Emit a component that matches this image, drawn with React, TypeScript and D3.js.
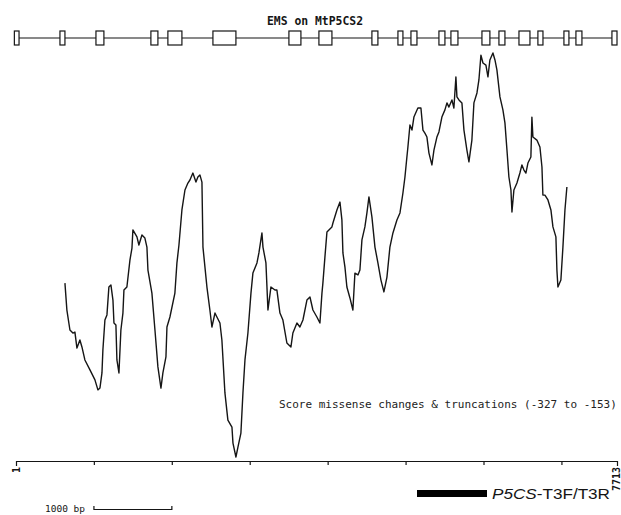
import React, { useRef, useEffect } from 'react';
import * as d3 from 'd3';

const W = 621;
const H = 515;

// nucleotide position (bp) of each sample of the score trace
const POS = [
    629, 654, 693, 731, 757, 783, 821, 847, 885, 950,
    1014, 1052, 1078, 1104, 1116, 1142, 1168, 1193, 1219, 1245,
    1258, 1283, 1296, 1322, 1347, 1373, 1386, 1424, 1463, 1489,
    1501, 1553, 1578, 1617, 1655, 1681, 1694, 1745, 1784, 1822,
    1861, 1886, 1925, 1938, 1976, 2040, 2066, 2092, 2130, 2169,
    2207, 2233, 2271, 2310, 2335, 2361, 2387, 2400, 2451, 2489,
    2515, 2554, 2579, 2618, 2643, 2682, 2720, 2772, 2785, 2823,
    2849, 2887, 2913, 2939, 2977, 3016, 3041, 3093, 3118, 3157,
    3170, 3208, 3234, 3272, 3324, 3349, 3388, 3426, 3477, 3529,
    3554, 3606, 3644, 3683, 3734, 3773, 3811, 3862, 3901, 3927,
    3939, 3965, 3991, 4055, 4068, 4119, 4158, 4183, 4196, 4222,
    4247, 4286, 4324, 4350, 4389, 4414, 4440, 4478, 4504, 4530,
    4568, 4607, 4645, 4684, 4722, 4761, 4799, 4838, 4889, 4928,
    4966, 4992, 5017, 5030, 5056, 5082, 5107, 5158, 5197,
    5223, 5248, 5274, 5300, 5338, 5364, 5402, 5428, 5466, 5505, 5531,
    5556, 5595, 5620, 5646, 5659, 5685, 5723, 5749, 5787, 5813,
    5851, 5877, 5916, 5941, 5967, 5993, 6031, 6057, 6082, 6121,
    6147, 6172, 6211, 6249, 6275, 6301, 6326, 6352, 6365, 6390,
    6429, 6467, 6493, 6519, 6544, 6570, 6608, 6621, 6634, 6685,
    6724, 6750, 6762, 6788, 6827, 6865, 6891, 6929, 6942, 6955,
    6993, 7019, 7045, 7070,
];

// windowed score (missense changes & truncations)
const SCORE = [
    -252.1, -263.7, -272.3, -273.6, -273.2, -280.1, -276.6, -279.6, -285.2, -289.5,
    -293.8, -298.1, -297.3, -290.8, -280.9, -268.0, -265.8, -253.8, -252.9, -259.4,
    -269.3, -270.1, -285.2, -290.8, -272.3, -265.0, -255.1, -253.8, -242.2, -237.0,
    -229.2, -232.2, -235.7, -231.4, -232.7, -236.6, -246.5, -256.4, -272.3, -288.2,
    -297.3, -290.8, -283.9, -271.0, -266.7, -256.4, -243.4, -235.7, -220.6, -212.0,
    -209.0, -207.7, -204.7, -208.6, -206.4, -205.5, -208.6, -236.6, -253.8, -263.7,
    -271.0, -265.0, -266.7, -269.3, -276.6, -299.4, -311.1, -314.1, -321.0, -327.0,
    -322.7, -316.7, -299.4, -285.2, -273.6, -256.4, -247.8, -243.4, -239.1, -230.5,
    -236.6, -243.4, -263.7, -253.8, -255.1, -255.1, -265.0, -268.0, -277.9, -279.6,
    -273.6, -269.3, -271.0, -268.0, -259.4, -258.1, -263.7, -266.7, -269.3, -256.4,
    -252.1, -240.9, -230.1, -227.9, -226.2, -220.6, -217.2, -224.9, -239.1, -245.2,
    -253.8, -258.5, -263.7, -247.8, -248.6, -246.5, -233.5, -227.9, -221.9, -215.0,
    -223.6, -236.6, -243.4, -250.8, -255.9, -249.5, -236.6, -230.5, -224.9, -221.9,
    -213.3, -206.4, -197.8, -193.5, -184.0, -186.2, -180.6, -176.7, -176.7,
    -186.2, -187.5, -189.2, -196.1, -201.2, -194.8, -189.2, -187.0, -180.6, -177.5, -174.5,
    -176.3, -173.2, -176.7, -163.3, -171.9, -173.2, -174.5, -186.2, -194.8, -199.9,
    -190.5, -174.5, -170.2, -164.6, -153.9, -157.3, -158.2, -163.3, -156.0, -153.0,
    -156.0, -160.3, -171.9, -177.5, -183.1, -194.8, -206.4, -212.0, -221.5, -212.0,
    -209.0, -204.7, -201.2, -203.4, -204.7, -200.4, -197.8, -180.6, -189.2, -190.5,
    -193.5, -202.1, -214.2, -214.2, -216.3, -220.6, -227.9, -232.2, -246.5, -253.8,
    -250.8, -236.6, -220.6, -210.7,
];

// exons of MtP5CS2 [start, end] in bp
const EXONS = [
    [-20, 40], [565, 629], [1027, 1129], [1732, 1822], [1950, 2130], [2528, 2823],
    [3503, 3657], [3888, 4055], [4568, 4645], [4902, 4966], [5069, 5146],
    [5428, 5505], [5582, 5672], [5980, 6082], [6198, 6275], [6455, 6596],
    [6698, 6763], [7032, 7096], [7186, 7263], [7648, 7713],
];

const SEQ_START = 1;
const SEQ_END = 7713;
const SCORE_MIN = -327;
const SCORE_MAX = -153;
const AXIS_TICKS = [1000, 2000, 3000, 4000, 5000, 6000, 7000];
const SCALE_BAR = [1001, 2001];

const TITLE = 'EMS on MtP5CS2';
const SCORE_LABEL = 'Score missense changes & truncations (-327 to -153)';
const PRIMER_LABEL = 'P5CS';
const PRIMER_SUFFIX = '-T3F/T3R';

const MONO = '"DejaVu Sans Mono", monospace';
const INK = '#151515';

export default function App() {
    const svgRef = useRef<SVGSVGElement>(null);

    useEffect(() => {
        const svg = d3.select(svgRef.current);
        svg.selectAll('*').remove();

        const x = d3.scaleLinear().domain([SEQ_START, SEQ_END]).range([16, 617]);
        const y = d3.scaleLinear().domain([SCORE_MIN, SCORE_MAX]).range([457, 53]);

        svg.append('rect').attr('width', W).attr('height', H).attr('fill', '#fff');

        // title
        svg.append('text')
            .attr('x', 315).attr('y', 25)
            .attr('text-anchor', 'middle')
            .attr('font-family', MONO).attr('font-weight', 'bold').attr('font-size', '11.4px')
            .attr('fill', INK)
            .text(TITLE);

        // gene model
        const gene = svg.append('g');
        gene.append('line')
            .attr('x1', x(EXONS[0][0])).attr('x2', x(SEQ_END))
            .attr('y1', 38).attr('y2', 38)
            .attr('stroke', INK).attr('stroke-width', 1.2);
        gene.selectAll('rect')
            .data(EXONS)
            .join('rect')
            .attr('x', d => x(d[0]))
            .attr('y', 31)
            .attr('width', d => x(d[1]) - x(d[0]))
            .attr('height', 14)
            .attr('fill', '#fff')
            .attr('stroke', INK).attr('stroke-width', 1.2);

        // score trace
        const pts = POS.slice(0, Math.min(POS.length, SCORE.length)).map((p, i) => [p, SCORE[i]] as [number, number]);
        const line = d3.line<[number, number]>().x(d => x(d[0])).y(d => y(d[1]));
        svg.append('path')
            .datum(pts)
            .attr('d', line)
            .attr('fill', 'none')
            .attr('stroke', INK)
            .attr('stroke-width', 1.4)
            .attr('stroke-linejoin', 'round');

        svg.append('text')
            .attr('x', 279).attr('y', 408)
            .attr('font-family', MONO).attr('font-size', '11px')
            .attr('fill', '#222')
            .text(SCORE_LABEL);

        // sequence axis
        const axis = svg.append('g')
            .attr('transform', 'translate(0,461)')
            .call(d3.axisBottom(x).tickValues(AXIS_TICKS).tickSize(4).tickSizeOuter(5).tickFormat(() => ''));
        axis.selectAll('line, path').attr('stroke', INK).attr('stroke-width', 1.2);

        [SEQ_START, SEQ_END].forEach((v, i) => {
            svg.append('text')
                .attr('transform', `translate(${x(v) + (i ? 3 : 4)},${467}) rotate(-90)`)
                .attr('text-anchor', 'end')
                .attr('font-family', MONO).attr('font-weight', 'bold').attr('font-size', '10px')
                .attr('fill', INK)
                .text(String(v));
        });

        // scale bar
        svg.append('text')
            .attr('x', 45).attr('y', 512)
            .attr('font-family', MONO).attr('font-size', '9.5px')
            .attr('fill', INK)
            .text('1000 bp');
        svg.append('path')
            .attr('d', `M${x(SCALE_BAR[0])},506V509.5H${x(SCALE_BAR[1])}V506`)
            .attr('fill', 'none')
            .attr('stroke', INK).attr('stroke-width', 1.2);

        // primer legend
        svg.append('rect')
            .attr('x', 417).attr('y', 490)
            .attr('width', 70).attr('height', 7)
            .attr('fill', '#000');
        const lg = svg.append('text')
            .attr('x', 492).attr('y', 499)
            .attr('font-family', '"Liberation Sans", Arial, sans-serif').attr('font-size', '15px')
            .attr('fill', INK)
            .attr('textLength', 118).attr('lengthAdjust', 'spacingAndGlyphs');
        lg.append('tspan').attr('font-style', 'italic').text(PRIMER_LABEL);
        lg.append('tspan').text(PRIMER_SUFFIX);
    }, []);

    return (
        <div style={{ position: 'absolute', left: 0, top: 0, width: W, height: H }}>
            <svg ref={svgRef} width={W} height={H} style={{ display: 'block' }} />
        </div>
    );
}
